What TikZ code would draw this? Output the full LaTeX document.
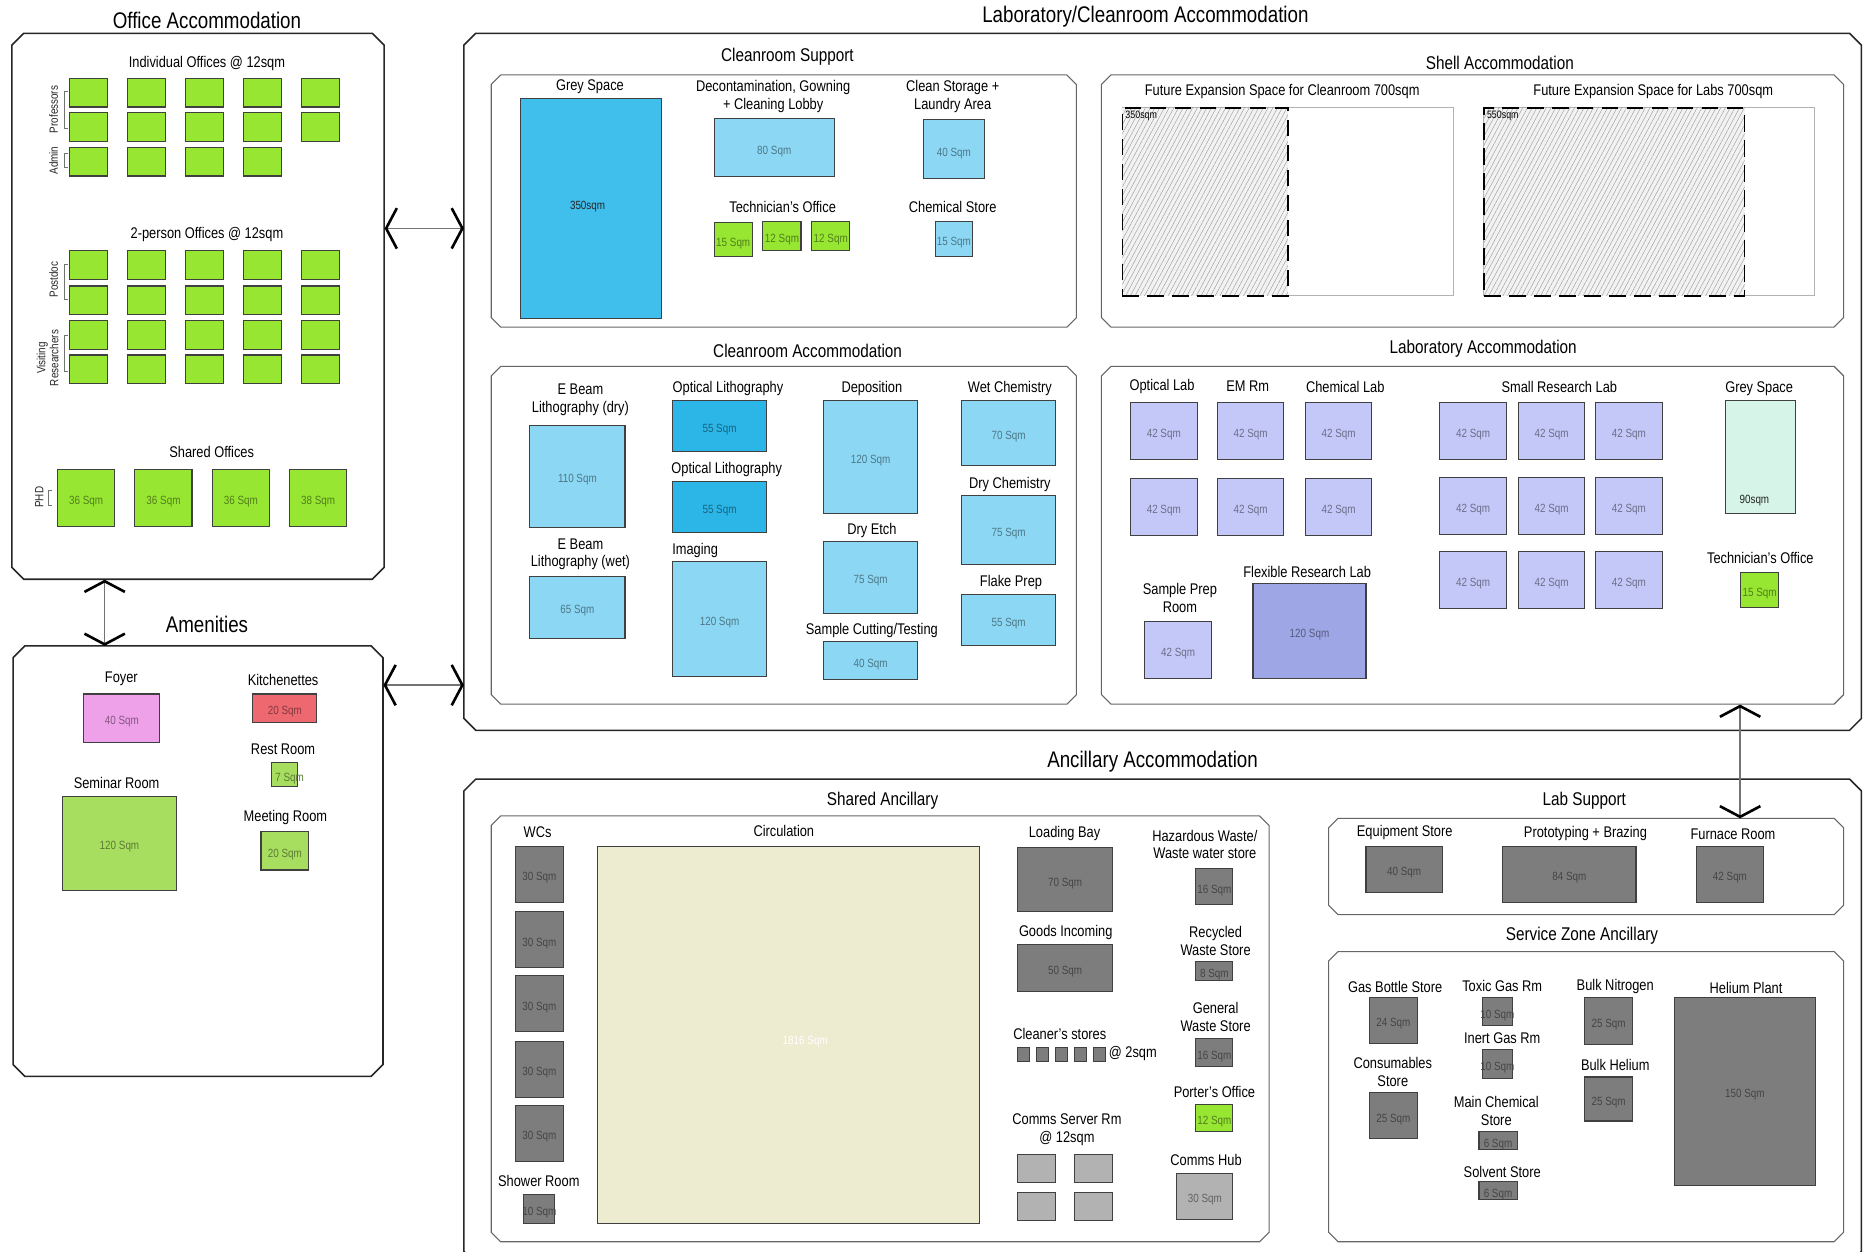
\documentclass[tikz,border=0pt]{standalone}
\usepackage{fontspec}
\setmainfont{Liberation Sans}[FakeStretch=0.83]
\usetikzlibrary{arrows.meta,patterns.meta}
\definecolor{offgreen}{RGB}{150,230,50}
\definecolor{amgreen}{RGB}{168,222,96}
\definecolor{foyer}{RGB}{238,160,232}
\definecolor{kitchen}{RGB}{238,104,112}
\definecolor{greyblue}{RGB}{64,190,236}
\definecolor{lblue}{RGB}{140,216,244}
\definecolor{dblue}{RGB}{44,182,232}
\definecolor{lav}{RGB}{196,200,248}
\definecolor{dlav}{RGB}{158,166,230}
\definecolor{aqua}{RGB}{214,244,232}
\definecolor{circ}{RGB}{238,236,208}
\definecolor{dgrey}{RGB}{125,125,125}
\definecolor{lgrey}{RGB}{178,178,178}
\tikzset{
  bigzone/.style={draw=black!85,line width=1.3},
  subzone/.style={draw=black!60,line width=0.9},
  ttl/.style={font=\fontsize{19}{21}\selectfont,inner sep=0},
  subttl/.style={font=\fontsize{15.5}{17}\selectfont,inner sep=0},
  lbl/.style={font=\fontsize{13}{15}\selectfont,align=center,inner sep=0},
  smlbl/.style={font=\fontsize{10}{11}\selectfont,align=center,inner sep=0,text=black!85},
  sqm/.style={font=\fontsize{10}{11}\selectfont,inner sep=0},
  room/.style={draw=black!75,line width=0.9,inner sep=0,anchor=north west},
  brk/.style={draw=black!55,line width=0.7},
  barb/.tip={Straight Barb[length=9pt,width=34pt,line width=2.2pt,color=black]},
  biarrow/.style={draw=black!55,line width=1.2,barb-barb},
  hatchbox/.style={anchor=north west,inner sep=0,preaction={fill=black!5},
    pattern={Lines[angle=62,distance=3.5pt,line width=0.35pt]},pattern color=black!40,
    draw=black,line width=1.4,dash pattern=on 14pt off 7pt},
  shellbox/.style={anchor=north west,inner sep=0,draw=black!30,line width=0.6}
}
% zone: name, x1, y1, x2, y2, style, chamfer
\newcommand\zone[7]{%
  \node[inner sep=0,minimum width={#4-#2},minimum height={#5-#3},anchor=north west] (#1) at (#2,#3) {};
  \draw[#6] (#2+#7,#3) -- (#4-#7,#3) -- (#4,#3+#7) -- (#4,#5-#7) -- (#4-#7,#5) -- (#2+#7,#5) -- (#2,#5-#7) -- (#2,#3+#7) -- cycle;}
% room: name, fill colour, x1, y1, x2, y2, area text
\newcommand\rmbox[7]{%
  \node[room,fill=#2,minimum width={#5-#3},minimum height={#6-#4}] (#1) at (#3,#4) {};
  \node[sqm,text=#2!55!black] (#1t) at ([yshift=-3pt]#1.center) {#7};}
\begin{document}
\begin{tikzpicture}[x=1pt,y=-1pt]
\useasboundingbox[fill=white] (0,0) rectangle (1568,1052);

% ================= OFFICE =================
\zone{office}{10}{28}{323}{487}{bigzone}{10}
\node[ttl] (tOffice) at (174,17) {Office Accommodation};
\node[lbl] (tInd) at (174,53) {Individual Offices @ 12sqm};
\foreach \c in {0,...,4}{
  \foreach \r/\y in {1/65.5,2/94.5}{
    \node[room,fill=offgreen,minimum width=32,minimum height=24] (ind\r\c) at ({58+48.8*\c},\y) {};}}
\foreach \c in {0,...,3}{
  \node[room,fill=offgreen,minimum width=32,minimum height=24] (adm\c) at ({58+48.8*\c},123.5) {};}
\node[lbl] (tTwo) at (174,197) {2-person Offices @ 12sqm};
\foreach \c in {0,...,4}{
  \foreach \r/\y in {1/210.5,2/240,3/269,4/298}{
    \node[room,fill=offgreen,minimum width=32,minimum height=24] (two\r\c) at ({58+48.8*\c},\y) {};}}
\node[smlbl,rotate=90] (lProf) at (45,92) {Professors};
\draw[brk] (57,77) -- (54,77) -- (54,108) -- (57,108);
\node[smlbl,rotate=90] (lAdm) at (45,135) {Admin};
\draw[brk] (57,129) -- (54,129) -- (54,141) -- (57,141);
\node[smlbl,rotate=90] (lPost) at (45,235) {Postdoc};
\draw[brk] (57,222) -- (54,222) -- (54,252) -- (57,252);
\node[smlbl,rotate=90] (lVis) at (40,301) {Visiting\\Researchers};
\draw[brk] (57,282) -- (54,282) -- (54,312) -- (57,312);
\node[lbl] (tShared) at (178,380) {Shared Offices};
\rmbox{sh1}{offgreen}{48}{394}{96}{442}{36  Sqm}
\rmbox{sh2}{offgreen}{113}{394}{161}{442}{36  Sqm}
\rmbox{sh3}{offgreen}{178}{394}{226}{442}{36  Sqm}
\rmbox{sh4}{offgreen}{243}{394}{291}{442}{38  Sqm}
\node[smlbl,rotate=90] (lPhd) at (33,418) {PHD};
\draw[brk] (44,412) -- (41,412) -- (41,425) -- (44,425);

% ================= AMENITIES =================
\zone{amen}{11}{543}{322}{905}{bigzone}{10}
\node[ttl] (tAmen) at (174,525) {Amenities};
\node[lbl] (lFoyer) at (102,571) {Foyer};
\rmbox{foyer}{foyer}{70}{583}{134}{624}{40  Sqm}
\node[lbl] (lKit) at (238,572) {Kitchenettes};
\rmbox{kit}{kitchen}{212}{583}{266}{607}{20  Sqm}
\node[lbl] (lRest) at (238,630) {Rest Room};
\rmbox{rest}{amgreen}{228}{641}{250}{661}{\hspace*{8pt}7  Sqm}
\node[lbl] (lMeet) at (240,687) {Meeting Room};
\rmbox{meet}{amgreen}{219}{699}{259}{731}{20  Sqm}
\node[lbl] (lSem) at (98,658) {Seminar Room};
\rmbox{sem}{amgreen}{52}{669}{148}{748}{120  Sqm}

% ================= LAB / CLEANROOM =================
\zone{labclean}{390}{28}{1565}{614}{bigzone}{10}
\node[ttl] (tLab) at (963,14) {Laboratory/Cleanroom Accommodation};

% Cleanroom support
\zone{crsup}{413}{63}{905}{275}{subzone}{8}
\node[subttl] (tCrs) at (662,48) {Cleanroom Support};
\node[lbl] (lGrey) at (496,73) {Grey Space};
\node[room,fill=greyblue,minimum width=119,minimum height=185] (grey1) at (437,82) {};
\node[smlbl,text=black!85] (grey1t) at (494,174) {350sqm};
\node[lbl] (lDecon) at (650,81) {Decontamination, Gowning\\+ Cleaning Lobby};
\rmbox{decon}{lblue}{600}{99}{701}{148}{\raisebox{-8pt}{80  Sqm}}
\node[lbl] (lClean) at (801,81) {Clean Storage +\\Laundry Area};
\rmbox{cleanst}{lblue}{776}{100}{827}{150}{\raisebox{-8pt}{40  Sqm}}
\node[lbl] (lTech1) at (658,174) {Technician's Office};
\rmbox{tech1}{offgreen}{600}{187}{632}{215}{15  Sqm}
\rmbox{tech2}{offgreen}{641}{186}{673}{210}{12  Sqm}
\rmbox{tech3}{offgreen}{682}{186}{714}{210}{12  Sqm}
\node[lbl] (lChem) at (801,174) {Chemical Store};
\rmbox{chemst}{lblue}{786}{186}{817}{215}{15  Sqm}

% Shell
\zone{shell}{926}{63}{1550}{275}{subzone}{8}
\node[subttl] (tShell) at (1261,53) {Shell Accommodation};
\node[lbl] (lFut1) at (1078,77) {Future Expansion Space for Cleanroom 700sqm};
\node[shellbox,minimum width=279,minimum height=158] (fut1) at (943,90) {};
\node[hatchbox,minimum width=139,minimum height=158] (fut1h) at (943,90) {};
\node[font=\fontsize{9}{10}\selectfont,inner sep=0,anchor=north west] (fut1t) at (946,93) {350sqm};
\node[lbl] (lFut2) at (1390,77) {Future Expansion Space for Labs 700sqm};
\node[shellbox,minimum width=278,minimum height=158] (fut2) at (1247,90) {};
\node[hatchbox,minimum width=219,minimum height=158] (fut2h) at (1247,90) {};
\node[font=\fontsize{9}{10}\selectfont,inner sep=0,anchor=north west] (fut2t) at (1250,93) {550sqm};

% Cleanroom accommodation
\zone{cracc}{413}{308}{905}{592}{subzone}{8}
\node[subttl] (tCra) at (679,295) {Cleanroom Accommodation};
\node[lbl] (lEbd) at (488,336) {E Beam\\Lithography (dry)};
\rmbox{ebd}{lblue}{445}{357}{525}{443}{110  Sqm}
\node[lbl] (lEbw) at (488,466) {E Beam\\Lithography (wet)};
\rmbox{ebw}{lblue}{445}{484}{525}{536}{65  Sqm}
\node[lbl] (lOl1) at (612,327) {Optical Lithography};
\rmbox{ol1}{dblue}{565}{336}{644}{379}{55  Sqm}
\node[lbl] (lOl2) at (611,395) {Optical Lithography};
\rmbox{ol2}{dblue}{565}{404}{644}{447}{55  Sqm}
\node[lbl,anchor=west] (lImg) at (565,463) {Imaging};
\rmbox{img}{lblue}{565}{472}{644}{568}{120  Sqm}
\node[lbl] (lDep) at (733,327) {Deposition};
\rmbox{dep}{lblue}{692}{336}{771}{431}{120  Sqm}
\node[lbl] (lEtch) at (733,446) {Dry Etch};
\rmbox{etch}{lblue}{692}{455}{771}{515}{75  Sqm}
\node[lbl] (lCut) at (733,530) {Sample Cutting/Testing};
\rmbox{cut}{lblue}{692}{539}{771}{571}{40  Sqm}
\node[lbl] (lWet) at (849,327) {Wet Chemistry};
\rmbox{wet}{lblue}{808}{336}{887}{391}{70  Sqm}
\node[lbl] (lDry) at (849,407) {Dry Chemistry};
\rmbox{dry}{lblue}{808}{416}{887}{474}{75  Sqm}
\node[lbl] (lFlake) at (850,490) {Flake Prep};
\rmbox{flake}{lblue}{808}{499}{887}{542}{55  Sqm}

% Laboratory accommodation
\zone{labacc}{926}{308}{1550}{592}{subzone}{8}
\node[subttl] (tLa) at (1247,293) {Laboratory Accommodation};
\node[lbl] (lOpt) at (977,325) {Optical Lab};
\node[lbl] (lEm) at (1049,325) {EM Rm};
\node[lbl] (lChl) at (1131,325) {Chemical Lab};
\foreach \x [count=\i] in {950,1023,1097}{
  \rmbox{la1\i}{lav}{\x}{338}{\x+56}{386}{42  Sqm}
  \rmbox{la2\i}{lav}{\x}{402}{\x+56}{450}{42  Sqm}}
\node[lbl] (lSmall) at (1311,325) {Small Research Lab};
\foreach \x [count=\i] in {1210,1276,1341}{
  \rmbox{sr1\i}{lav}{\x}{338}{\x+56}{386}{42  Sqm}
  \rmbox{sr2\i}{lav}{\x}{401}{\x+56}{449}{42  Sqm}
  \rmbox{sr3\i}{lav}{\x}{463}{\x+56}{511}{42  Sqm}}
\node[lbl] (lGrey2) at (1479,327) {Grey Space};
\node[room,fill=aqua,minimum width=59,minimum height=95] (grey2) at (1450,336) {};
\node[smlbl,text=black!85] (grey2t) at (1475,421) {90sqm};
\node[lbl] (lTech4) at (1480,469) {Technician's Office};
\rmbox{tech4}{offgreen}{1463}{481}{1495}{510}{15  Sqm}
\node[lbl] (lSprep) at (992,503) {Sample Prep\\Room};
\rmbox{sprep}{lav}{962}{522}{1018}{570}{42  Sqm}
\node[lbl] (lFlex) at (1099,481) {Flexible Research Lab};
\rmbox{flex}{dlav}{1053}{490}{1148}{570}{120  Sqm}

% ================= ANCILLARY =================
\zone{ancil}{390}{655}{1565}{1062}{bigzone}{10}
\node[ttl] (tAnc) at (969,640) {Ancillary Accommodation};

% Shared ancillary
\zone{shanc}{413}{686}{1067}{1044}{subzone}{8}
\node[subttl] (tSha) at (742,673) {Shared Ancillary};
\node[lbl] (lWc) at (452,700) {WCs};
\foreach \y [count=\i] in {711,766,820,875,929}{
  \rmbox{wc\i}{dgrey}{433}{\y}{473}{\y+47}{30  Sqm}}
\node[lbl] (lShow) at (453,993) {Shower Room};
\rmbox{shower}{dgrey}{440}{1004}{466}{1028}{10  Sqm}
\node[lbl] (lCirc) at (659,699) {Circulation};
\node[room,fill=circ,minimum width=321,minimum height=317] (circ) at (502,711) {};
\node[sqm,text=white] (circt) at (677,876) {1816  Sqm};
\node[lbl] (lLoad) at (895,701) {Loading Bay};
\rmbox{load}{dgrey}{855}{712}{935}{766}{70  Sqm}
\node[lbl] (lGoods) at (896,784) {Goods Incoming};
\rmbox{goods}{dgrey}{855}{794}{935}{833}{50  Sqm}
\node[lbl] (lCleaner) at (891,869) {Cleaner's stores};
\foreach \i in {0,...,4}{
  \node[room,fill=dgrey,minimum width=10,minimum height=12] (cs\i) at ({855+16*\i},880) {};}
\node[lbl,anchor=west] (lAt2) at (932,886) {@ 2sqm};
\node[lbl] (lComms) at (897,950) {Comms Server Rm\\@ 12sqm};
\node[room,fill=lgrey,minimum width=32,minimum height=24] (cm1) at (855,970) {};
\node[room,fill=lgrey,minimum width=32,minimum height=24] (cm2) at (903,970) {};
\node[room,fill=lgrey,minimum width=32,minimum height=24] (cm3) at (855,1002) {};
\node[room,fill=lgrey,minimum width=32,minimum height=24] (cm4) at (903,1002) {};
\node[lbl] (lHaz) at (1013,710) {Hazardous Waste/\\Waste water store};
\rmbox{haz}{dgrey}{1005}{730}{1036}{760}{16  Sqm}
\node[lbl] (lRec) at (1022,791) {Recycled\\Waste Store};
\rmbox{rec}{dgrey}{1005}{808}{1036}{824}{8  Sqm}
\node[lbl] (lGen) at (1022,855) {General\\Waste Store};
\rmbox{gen}{dgrey}{1005}{873}{1036}{896}{16  Sqm}
\node[lbl] (lPort) at (1021,918) {Porter's Office};
\rmbox{port}{offgreen}{1005}{928}{1036}{951}{12  Sqm}
\node[lbl] (lHub) at (1014,975) {Comms Hub};
\rmbox{hub}{lgrey}{989}{986}{1036}{1025}{30  Sqm}

% Lab support
\zone{labsup}{1117}{688}{1550}{769}{subzone}{8}
\node[subttl] (tLs) at (1332,673) {Lab Support};
\node[lbl] (lEquip) at (1181,700) {Equipment Store};
\rmbox{equip}{dgrey}{1148}{711}{1212}{750}{40  Sqm}
\node[lbl] (lProto) at (1333,701) {Prototyping + Brazing};
\rmbox{proto}{dgrey}{1263}{711}{1375}{758}{84  Sqm}
\node[lbl] (lFurn) at (1457,701) {Furnace Room};
\rmbox{furn}{dgrey}{1426}{711}{1482}{758}{42  Sqm}

% Service zone ancillary
\zone{service}{1117}{800}{1550}{1044}{subzone}{8}
\node[subttl] (tSz) at (1330,787) {Service Zone Ancillary};
\node[lbl] (lGas) at (1173,830) {Gas Bottle Store};
\rmbox{gas}{dgrey}{1151}{838}{1191}{877}{24  Sqm}
\node[lbl] (lCons) at (1171,901) {Consumables\\Store};
\rmbox{cons}{dgrey}{1151}{918}{1191}{957}{25  Sqm}
\node[lbl] (lTox) at (1263,829) {Toxic Gas Rm};
\rmbox{tox}{dgrey}{1246}{838}{1271}{862}{10  Sqm}
\node[lbl] (lInert) at (1263,873) {Inert Gas Rm};
\rmbox{inert}{dgrey}{1246}{882}{1271}{906}{10  Sqm}
\node[lbl] (lMainc) at (1258,934) {Main Chemical\\Store};
\rmbox{mainc}{dgrey}{1243}{951}{1275}{966}{6  Sqm}
\node[lbl] (lSolv) at (1263,985) {Solvent Store};
\rmbox{solv}{dgrey}{1243}{993}{1275}{1008}{6  Sqm}
\node[lbl] (lNit) at (1358,829) {Bulk Nitrogen};
\rmbox{nit}{dgrey}{1332}{838}{1372}{878}{25  Sqm}
\node[lbl] (lHel) at (1358,895) {Bulk Helium};
\rmbox{hel}{dgrey}{1332}{905}{1372}{942}{25  Sqm}
\node[lbl] (lHplant) at (1468,831) {Helium Plant};
\rmbox{hplant}{dgrey}{1407}{838}{1526}{996}{150  Sqm}

% ================= CONNECTORS =================
\draw[biarrow] (office.east |- 0,192) -- (labclean.west |- 0,192);
\draw[biarrow] (amen.east |- 0,576) -- (labclean.west |- 0,576);
\draw[biarrow] (88,0 |- office.south) -- (88,0 |- amen.north);
\draw[biarrow] (1463,0 |- labacc.south) -- (1463,0 |- labsup.north);
\end{tikzpicture}
\end{document}
